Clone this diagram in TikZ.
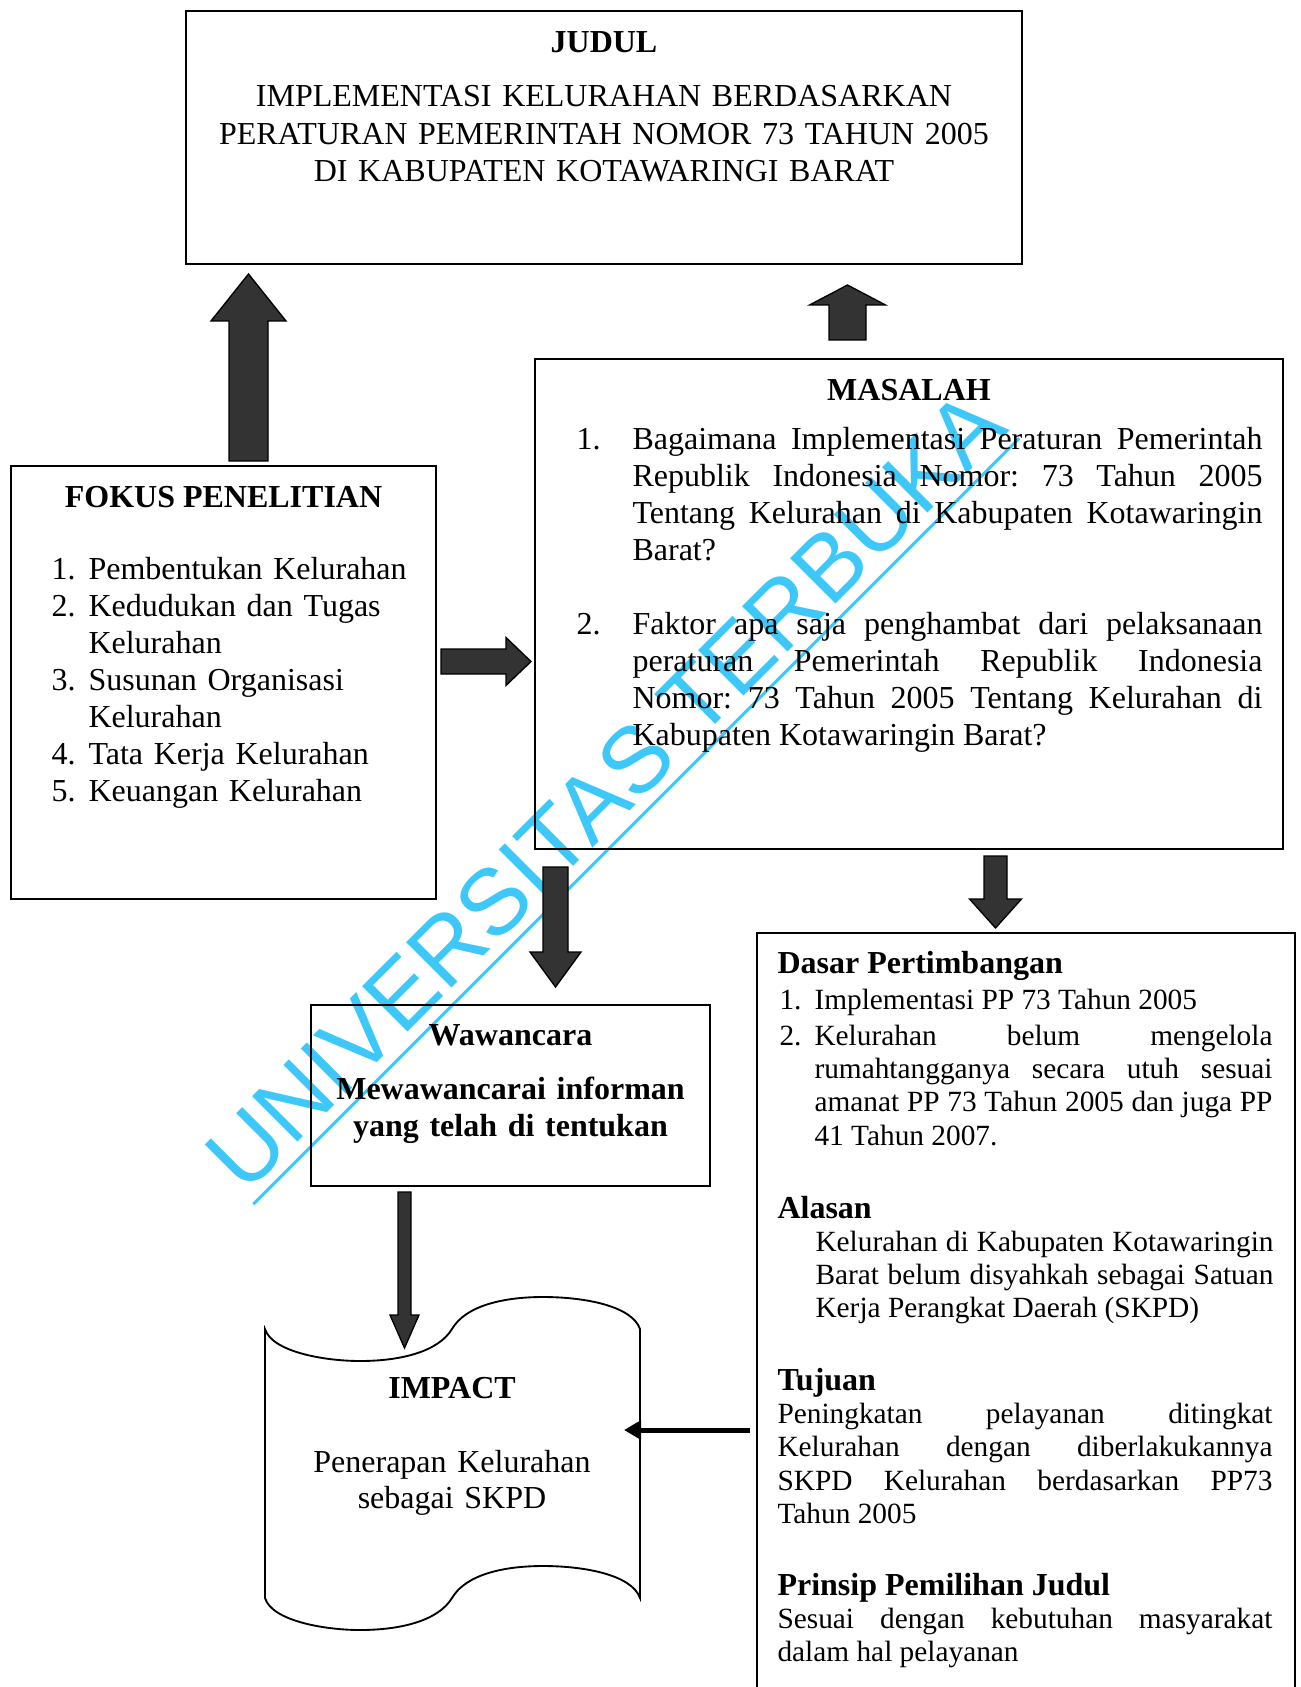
\documentclass[tikz,border=0pt]{standalone}
\usepackage{fontspec}
\setmainfont{Liberation Serif}
\newfontfamily\wmfont{Liberation Sans}
\usetikzlibrary{arrows.meta,fit}
\frenchspacing

\newlength{\px}\setlength{\px}{0.375pt}
\definecolor{arrowgray}{RGB}{51,51,51}
\definecolor{wmcyan}{RGB}{62,200,250}

\tikzset{
  box/.style={draw, line width=0.7pt, inner sep=0pt},
  blockarr/.style={draw=black, fill=arrowgray, line width=0.5pt, line join=miter},
  thinarr/.style={line width=5\px, -{Triangle[length=6.4pt,width=7pt]}},
  headtext/.style={font={\fontsize{12}{13.9}\selectfont\bfseries}, anchor=base, inner sep=0pt},
  bodytext/.style={font={\fontsize{12}{13.9}\selectfont}, inner sep=0pt},
  smalltext/.style={font={\fontsize{11}{12.56}\selectfont}, inner sep=0pt},
  watermark/.style={rotate=45, text=wmcyan, font={\wmfont\fontsize{35}{35}\selectfont},
    inner xsep=0pt, inner ysep=4pt}
}

% tip, angle, shaft half width, head half width, head length, total length, name
\newcommand{\blockarrow}[7]{%
  \begin{scope}[shift={#1}, rotate=#2]
    \draw[blockarr] (0,0) coordinate (#7) -- (-#5,#4) -- (-#5,#3) -- (-#6,#3)
      -- (-#6,-#3) -- (-#5,-#3) -- (-#5,-#4) -- cycle;
  \end{scope}}
\newcommand{\numpar}[2]{\hangindent=#1\hangafter=1\makebox[#1][l]{#2}\ignorespaces}

\begin{document}
\begin{tikzpicture}[x=0.375pt, y=-0.375pt]
  \useasboundingbox (0,0) rectangle (1300,1687);

  % watermark
  \node[watermark] (wm) at (605,790) {UNIVERSITAS TERBUKA};
  \draw[wmcyan, line width=3\px] (wm.south west) -- (wm.south east);

  % boxes
  \node[box, fit={(186,11) (1022,264)}] (judul) {};
  \node[box, fit={(535,359) (1283,849)}] (masalah) {};
  \node[box, fit={(11,466) (436,899)}] (fokus) {};
  \node[box, fit={(311,1005) (710,1186)}] (wawancara) {};
  \node[box, fit={(757,933) (1295,1720)}] (dasar) {};
  \draw[box] (265,1329) .. controls (272,1352) and (325,1361) .. (360,1361)
    .. controls (400,1361) and (438,1352) .. (452,1329)
    .. controls (466,1305) and (505,1297) .. (543,1297)
    .. controls (585,1297) and (632,1306) .. (640,1329)
    -- (640,1598)
    .. controls (632,1575) and (585,1566) .. (543,1566)
    .. controls (505,1566) and (466,1574) .. (452,1598)
    .. controls (438,1621) and (400,1630) .. (360,1630)
    .. controls (325,1630) and (272,1621) .. (265,1598)
    -- cycle;

  % JUDUL
  \node[headtext] (judulhead) at (604,53) {JUDUL};
  \node[bodytext, text width=800\px, align=center, anchor=base] (judultext) at (604,107)
    {IMPLEMENTASI KELURAHAN BERDASARKAN\\ PERATURAN PEMERINTAH NOMOR 73 TAHUN 2005\\ DI KABUPATEN KOTAWARINGI BARAT};

  % FOKUS PENELITIAN
  \node[headtext] (fokushead) at (223.5,507) {FOKUS PENELITIAN};
  \node[bodytext, text width=380\px, align=left, anchor=base west] (fokuslist) at (51,579)
    {\numpar{37\px}{1.}Pembentukan Kelurahan\par
     \numpar{37\px}{2.}Kedudukan dan Tugas\linebreak Kelurahan\par
     \numpar{37\px}{3.}Susunan Organisasi\linebreak Kelurahan\par
     \numpar{37\px}{4.}Tata Kerja Kelurahan\par
     \numpar{37\px}{5.}Keuangan Kelurahan\par};

  % MASALAH
  \node[headtext] (masalahhead) at (909,400) {MASALAH};
  \node[bodytext, text width=686\px, align=justify, anchor=base west] (masalah1) at (576,449)
    {\numpar{56\px}{1.}Bagaimana Implementasi Peraturan Pemerintah\linebreak
     Republik Indonesia Nomor: 73 Tahun 2005\linebreak
     Tentang Kelurahan di Kabupaten Kotawaringin\linebreak Barat?\par};
  \node[bodytext, text width=686\px, align=justify, anchor=base west] (masalah2) at (576,634)
    {\numpar{56\px}{2.}Faktor apa saja penghambat dari pelaksanaan\linebreak
     peraturan Pemerintah Republik Indonesia\linebreak
     Nomor: 73 Tahun 2005 Tentang Kelurahan di\linebreak
     Kabupaten Kotawaringin Barat?\par};

  % Wawancara
  \node[headtext] (wawanhead) at (510.5,1045) {Wawancara};
  \node[bodytext, font={\fontsize{12}{13.9}\selectfont\bfseries}, text width=390\px, align=center, anchor=base]
    (wawantext) at (510.5,1099) {Mewawancarai informan\\ yang telah di tentukan};

  % IMPACT
  \node[headtext] (impacthead) at (452,1398) {IMPACT};
  \node[bodytext, font={\fontsize{12}{13.5}\selectfont}, text width=340\px, align=center, anchor=base]
    (impacttext) at (452,1472) {Penerapan Kelurahan\\ sebagai SKPD};

  % Dasar Pertimbangan
  \node[headtext, anchor=base west] (dasarhead) at (777,973) {Dasar Pertimbangan};
  \node[smalltext, text width=493\px, align=justify, anchor=base west] (dasar1) at (779,1009)
    {\numpar{35\px}{1.}Implementasi PP 73 Tahun 2005\par};
  \node[smalltext, text width=493\px, align=justify, anchor=base west] (dasar2) at (779,1045)
    {\numpar{35\px}{2.}Kelurahan belum mengelola\linebreak
     rumahtangganya secara utuh sesuai\linebreak
     amanat PP 73 Tahun 2005 dan juga PP\linebreak 41 Tahun 2007.\par};
  \node[headtext, anchor=base west] (alasanhead) at (777,1218) {Alasan};
  \node[smalltext, text width=458\px, align=justify, anchor=base west] (alasantext) at (815,1251)
    {Kelurahan di Kabupaten Kotawaringin\linebreak
     Barat belum disyahkah sebagai Satuan\linebreak Kerja Perangkat Daerah (SKPD)};
  \node[headtext, anchor=base west] (tujuanhead) at (777,1390) {Tujuan};
  \node[smalltext, text width=495\px, align=justify, anchor=base west] (tujuantext) at (777,1423)
    {Peningkatan pelayanan ditingkat\linebreak
     Kelurahan dengan diberlakukannya\linebreak
     SKPD Kelurahan berdasarkan PP73\linebreak Tahun 2005};
  \node[headtext, anchor=base west] (prinsiphead) at (777,1595) {Prinsip Pemilihan Judul};
  \node[smalltext, text width=495\px, align=justify, anchor=base west] (prinsiptext) at (777,1628)
    {Sesuai dengan kebutuhan masyarakat\linebreak dalam hal pelayanan};

  % block arrows
  \blockarrow{(248.5,274)}{90}{19.5}{37.5}{47}{187}{arrfokus}
  \blockarrow{(847.5,285)}{90}{18.5}{38}{20}{55}{arrmasalah}
  \blockarrow{(531,661.5)}{0}{12.5}{24}{25}{90}{arrkanan}
  \blockarrow{(555.5,987)}{-90}{12.5}{25.5}{35}{120}{arrwawan}
  \blockarrow{(995.5,928)}{-90}{11.5}{26}{29}{72}{arrdasar}
  \blockarrow{(404.5,1348)}{-90}{6.5}{14.5}{33}{156}{arrimpact}

  % thin arrow
  \coordinate (tujuanout) at (750,1430);
  \coordinate (impactin) at (624,1430);
  \draw[thinarr] (tujuanout) -- (impactin);
\end{tikzpicture}
\end{document}
